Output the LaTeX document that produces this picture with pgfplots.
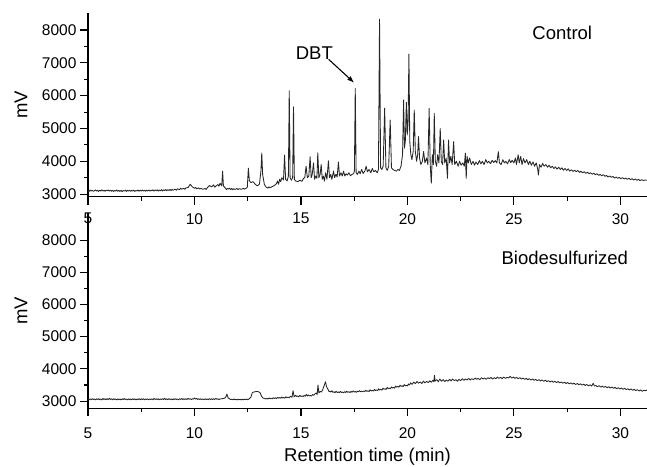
\documentclass[border=0pt]{standalone}
\usepackage{fontspec}
\setmainfont{Liberation Sans}
\usepackage{pgfplots}
\pgfplotsset{compat=1.18}
\usetikzlibrary{arrows.meta}
\newcommand{\tickfont}{\fontsize{15.5}{18}\selectfont}
\newcommand{\labfont}{\fontsize{18.5}{22}\selectfont}
\pgfplotsset{
  chrom/.style={
    scale only axis,
    width=559pt,
    xmin=5, xmax=31.25,
    axis x line*=bottom, axis y line*=left,
    axis line style={-, line width=1.2pt, black},
    xtick={5,10,15,20,25,30},
    ytick={3000,4000,5000,6000,7000,8000},
    minor x tick num=1, minor y tick num=1,
    tick align=outside,
    major tick length=8pt, minor tick length=4pt,
    every tick/.style={black, line width=1.1pt},
    tick label style={font=\tickfont},
    /pgf/number format/assume math mode=true,
    /pgf/number format/1000 sep={},
    ylabel={mV},
    ylabel style={font=\labfont, at={(axis description cs:-0.12,0.5)}, anchor=center},
    clip=false,
  },
  trace/.style={black!85, line width=0.85pt, mark=none, line join=round},
}
\begin{document}
\begin{tikzpicture}
% ---------------- top panel: control ----------------
\begin{axis}[chrom, at={(88pt,-196.7pt)}, anchor=south west,
  height=183.4pt, ymin=2920, ymax=8510, xticklabel style={yshift=-5pt}]
\addplot[trace] coordinates {
(5.0,3110)(5.05,3080)(5.1,3125)(5.15,3090)(5.2,3120)(5.25,3085)(5.3,3100)(5.35,3130)(5.4,3095)(5.45,3115)(5.5,3080)
(5.55,3120)(5.6,3095)(5.65,3130)(5.7,3090)(5.75,3115)(5.8,3085)(5.85,3120)(5.9,3100)(5.95,3125)
(6.0,3090)(6.05,3120)(6.1,3085)(6.15,3115)(6.2,3080)(6.25,3110)(6.3,3090)(6.35,3125)(6.4,3085)(6.45,3110)
(6.5,3080)(6.55,3115)(6.6,3075)(6.65,3110)(6.7,3090)(6.75,3120)(6.8,3080)(6.85,3115)(6.9,3090)(6.95,3120)
(7.0,3085)(7.05,3115)(7.1,3090)(7.15,3120)(7.2,3080)(7.25,3110)(7.3,3095)(7.35,3125)(7.4,3085)(7.45,3120)
(7.5,3095)(7.55,3125)(7.6,3090)(7.65,3115)(7.7,3085)(7.75,3120)(7.8,3095)(7.85,3125)(7.9,3090)(7.95,3120)
(8.0,3100)(8.05,3130)(8.1,3090)(8.15,3125)(8.2,3100)(8.25,3130)(8.3,3090)(8.35,3125)(8.4,3100)(8.45,3135)
(8.5,3095)(8.55,3130)(8.6,3105)(8.65,3140)(8.7,3100)(8.75,3135)(8.8,3110)(8.85,3140)(8.9,3105)(8.95,3145)
(9.0,3115)(9.1,3150)(9.15,3120)(9.2,3160)(9.3,3135)(9.35,3180)(9.4,3150)(9.5,3175)(9.55,3145)(9.6,3190)
(9.7,3200)(9.8,3300)(9.9,3220)(10.0,3180)(10.05,3200)(10.1,3160)(10.2,3190)(10.25,3150)(10.3,3175)(10.4,3145)
(10.5,3170)(10.55,3140)(10.6,3190)(10.7,3260)(10.8,3220)(10.9,3280)(10.95,3210)(11.0,3240)(11.1,3290)(11.15,3240)
(11.2,3330)(11.28,3250)(11.32,3700)(11.36,3250)(11.45,3180)(11.5,3140)(11.55,3175)(11.6,3150)(11.65,3180)
(11.7,3140)(11.75,3170)(11.8,3130)(11.85,3165)(11.9,3140)(12.0,3170)(12.05,3135)(12.1,3165)(12.2,3145)(12.3,3175)
(12.35,3150)(12.4,3170)(12.48,3200)(12.53,3790)(12.58,3400)(12.65,3350)(12.75,3380)(12.85,3300)(12.95,3250)
(13.05,3300)(13.12,3700)(13.16,4250)(13.2,3600)(13.28,3300)(13.35,3220)(13.45,3180)(13.5,3220)(13.55,3190)
(13.65,3230)(13.75,3260)(13.85,3320)(13.9,3400)(13.95,3300)(14.0,3450)(14.05,3380)(14.1,3500)(14.18,3430)
(14.23,4190)(14.28,3450)(14.35,3400)(14.41,3550)(14.45,6150)(14.49,3500)(14.55,3420)(14.61,3500)(14.65,5660)
(14.69,3450)(14.75,3400)(14.85,3380)(14.95,3420)(15.05,3390)(15.12,3480)(15.18,3500)(15.24,3850)(15.3,3500)
(15.37,3550)(15.43,4140)(15.48,3500)(15.53,3600)(15.59,3950)(15.64,3450)(15.7,3550)(15.75,3480)(15.79,4260)(15.84,3500)
(15.9,3600)(15.95,3900)(16.0,3450)(16.05,3550)(16.1,3400)(16.16,3650)(16.22,3450)(16.29,4015)(16.34,3500)(16.4,3600)
(16.45,3450)(16.53,3700)(16.58,3500)(16.64,3600)(16.7,3520)(16.76,3980)(16.81,3550)(16.88,3650)(16.94,3550)(17.0,3700)
(17.06,3550)(17.12,3620)(17.18,3580)(17.25,3650)(17.32,3560)(17.4,3600)(17.47,3620)(17.51,3700)(17.55,6220)(17.59,3650)
(17.65,3600)(17.72,3700)(17.78,3620)(17.85,3750)(17.92,3630)(18.0,3700)(18.06,3850)(18.12,3680)(18.2,3750)(18.28,3650)
(18.35,3780)(18.42,3680)(18.5,3720)(18.58,3650)(18.64,3750)(18.69,8330)(18.74,3800)(18.8,3750)(18.86,3850)(18.93,5620)
(18.99,3800)(19.05,3720)(19.12,3850)(19.19,5260)(19.25,3800)(19.32,3750)(19.4,3720)(19.48,3700)(19.55,3750)(19.62,3720)
(19.7,3850)(19.77,4200)(19.82,5870)(19.86,4400)(19.9,4600)(19.95,5800)(19.99,4800)(20.03,5200)(20.07,7270)(20.11,4600)
(20.16,4200)(20.21,4050)(20.27,4300)(20.32,5560)(20.37,4300)(20.43,4000)(20.48,4200)(20.52,4750)(20.57,4100)(20.63,3900)
(20.7,4000)(20.76,4300)(20.82,3950)(20.9,4100)(20.96,3900)(21.02,5610)(21.07,3900)(21.12,3330)(21.17,4200)(21.22,3900)
(21.26,5460)(21.31,4000)(21.37,3850)(21.42,4200)(21.48,3950)(21.54,5000)(21.59,4000)(21.65,3900)(21.7,4650)(21.75,3950)
(21.82,4100)(21.88,3480)(21.93,4650)(21.98,3950)(22.04,4150)(22.1,3900)(22.17,4600)(22.22,3900)(22.3,4000)(22.38,3850)
(22.45,4000)(22.52,3880)(22.6,3950)(22.67,3850)(22.72,4250)(22.76,3480)(22.8,4150)(22.86,3950)(22.92,4100)(23.0,3900)
(23.08,4000)(23.15,3880)(23.22,3980)(23.3,3900)(23.38,4020)(23.45,3920)(23.52,4000)(23.6,3900)(23.68,4050)(23.75,3950)
(23.82,4000)(23.9,3930)(23.98,4030)(24.05,3960)(24.12,4020)(24.2,3950)(24.27,4290)(24.32,3950)(24.4,3900)(24.48,4050)
(24.55,3950)(24.62,4000)(24.7,3920)(24.78,4050)(24.85,3960)(24.92,4030)(25.0,3950)(25.07,4100)(25.12,3900)(25.2,4200)
(25.25,3950)(25.32,4150)(25.38,3900)(25.45,4080)(25.52,3950)(25.6,4050)(25.68,3900)(25.75,4000)(25.82,3880)(25.9,3980)
(25.97,3850)(26.05,3950)(26.12,3750)(26.15,3580)(26.2,3900)(26.27,3820)(26.35,3930)(26.42,3850)(26.5,3900)(26.58,3820)
(26.65,3880)(26.72,3800)(26.8,3850)(26.88,3780)(26.95,3830)(27.02,3760)(27.1,3820)(27.18,3750)(27.25,3800)(27.32,3730)
(27.4,3780)(27.48,3720)(27.55,3770)(27.62,3700)(27.7,3740)(27.78,3690)(27.85,3730)(27.92,3680)(28.0,3720)(28.08,3660)
(28.15,3700)(28.22,3650)(28.3,3680)(28.38,3630)(28.45,3670)(28.52,3620)(28.6,3650)(28.68,3600)(28.75,3640)(28.82,3590)
(28.9,3620)(28.98,3570)(29.05,3600)(29.12,3560)(29.2,3590)(29.28,3540)(29.35,3570)(29.42,3520)(29.5,3550)(29.58,3510)
(29.65,3540)(29.72,3490)(29.8,3520)(29.88,3480)(29.95,3510)(30.02,3470)(30.1,3500)(30.18,3460)(30.25,3490)(30.32,3450)
(30.4,3480)(30.48,3440)(30.55,3470)(30.62,3430)(30.7,3460)(30.78,3420)(30.85,3450)(30.92,3410)(31.0,3440)(31.08,3410)
(31.15,3430)(31.25,3420)
};
\node[font=\labfont] at (axis cs:27.27,7909) {Control};
\node[font=\labfont] at (axis cs:15.63,7290) {DBT};
\draw[-{Latex[length=7pt,width=5pt]}, line width=1.1pt] (axis cs:16.30,7107) -- (axis cs:17.50,6393);
\end{axis}
% ---------------- bottom panel: biodesulfurized ----------------
\begin{axis}[chrom, at={(88pt,-408.3pt)}, anchor=south west,
  height=195.3pt, ymin=2775, ymax=8840, xticklabel style={yshift=-8pt},
  xlabel={Retention time (min)},
  xlabel style={font=\labfont, at={(axis description cs:0.5,-0.249)}, anchor=center}]
\addplot[trace] coordinates {
(5.0,3060)(5.05,3035)(5.1,3070)(5.15,3040)(5.2,3075)(5.25,3045)(5.3,3065)(5.35,3035)(5.4,3070)(5.45,3045)
(5.5,3075)(5.55,3040)(5.6,3065)(5.65,3035)(5.7,3080)(5.75,3050)(5.8,3070)(5.85,3040)(5.9,3075)(5.95,3045)
(6.0,3085)(6.05,3050)(6.1,3070)(6.15,3040)(6.2,3075)(6.25,3045)(6.3,3065)(6.35,3035)(6.4,3070)(6.45,3040)
(6.5,3065)(6.55,3035)(6.6,3070)(6.65,3045)(6.7,3080)(6.75,3050)(6.8,3065)(6.85,3035)(6.9,3070)(6.95,3040)
(7.0,3065)(7.05,3040)(7.1,3075)(7.15,3045)(7.2,3070)(7.25,3035)(7.3,3065)(7.35,3045)(7.4,3075)(7.45,3040)
(7.5,3070)(7.55,3045)(7.6,3075)(7.65,3040)(7.7,3065)(7.75,3045)(7.8,3070)(7.85,3040)(7.9,3065)(7.95,3045)
(8.0,3070)(8.05,3040)(8.1,3080)(8.15,3050)(8.2,3070)(8.25,3045)(8.3,3075)(8.35,3040)(8.4,3065)(8.45,3050)
(8.5,3075)(8.55,3045)(8.6,3085)(8.65,3050)(8.7,3070)(8.75,3040)(8.8,3075)(8.85,3050)(8.9,3065)(8.95,3040)
(9.0,3070)(9.05,3045)(9.1,3075)(9.15,3050)(9.2,3065)(9.25,3040)(9.3,3070)(9.35,3050)(9.4,3080)(9.45,3045)
(9.5,3070)(9.55,3050)(9.6,3075)(9.65,3045)(9.7,3085)(9.75,3055)(9.8,3075)(9.85,3045)(9.9,3070)(9.95,3060)
(10.0,3095)(10.05,3060)(10.1,3080)(10.15,3050)(10.2,3075)(10.25,3045)(10.3,3070)(10.35,3050)(10.4,3065)(10.45,3040)
(10.5,3070)(10.55,3045)(10.6,3065)(10.65,3040)(10.7,3075)(10.75,3050)(10.8,3070)(10.85,3045)(10.9,3075)(10.95,3050)
(11.0,3085)(11.05,3055)(11.1,3070)(11.15,3045)(11.2,3065)(11.3,3075)(11.4,3085)(11.48,3130)(11.52,3220)(11.58,3100)
(11.65,3070)(11.7,3045)(11.75,3060)(11.8,3040)(11.85,3065)(11.9,3040)(11.95,3055)(12.0,3035)(12.05,3060)(12.1,3040)
(12.15,3055)(12.2,3035)(12.25,3060)(12.3,3040)(12.35,3055)(12.4,3045)(12.45,3065)(12.5,3040)(12.55,3060)(12.65,3120)
(12.72,3270)(12.8,3280)(12.9,3300)(13.0,3290)(13.08,3260)(13.15,3150)(13.22,3090)(13.3,3080)(13.35,3060)(13.4,3085)
(13.45,3065)(13.5,3095)(13.55,3070)(13.6,3090)(13.65,3070)(13.7,3105)(13.75,3080)(13.8,3100)(13.85,3080)(13.9,3115)
(13.95,3090)(14.0,3110)(14.05,3085)(14.1,3125)(14.15,3095)(14.2,3110)(14.25,3090)(14.3,3135)(14.35,3105)(14.4,3120)
(14.45,3100)(14.5,3150)(14.58,3120)(14.63,3320)(14.68,3130)(14.75,3180)(14.8,3140)(14.85,3160)(14.9,3130)(14.95,3175)
(15.0,3145)(15.05,3160)(15.1,3140)(15.15,3175)(15.2,3150)(15.25,3205)(15.3,3160)(15.35,3190)(15.4,3160)(15.45,3170)
(15.5,3155)(15.55,3205)(15.6,3180)(15.65,3220)(15.72,3250)(15.76,3200)(15.8,3500)(15.84,3250)(15.9,3300)(15.96,3280)
(16.02,3350)(16.1,3500)(16.15,3600)(16.2,3450)(16.28,3350)(16.32,3290)(16.36,3310)(16.4,3280)(16.45,3320)(16.5,3270)
(16.55,3290)(16.6,3260)(16.65,3305)(16.7,3265)(16.75,3285)(16.8,3260)(16.85,3300)(16.9,3265)(16.95,3280)(17.0,3255)
(17.05,3290)(17.1,3265)(17.15,3305)(17.2,3270)(17.25,3290)(17.3,3265)(17.35,3300)(17.4,3275)(17.45,3315)(17.5,3280)
(17.55,3295)(17.6,3270)(17.65,3310)(17.7,3285)(17.75,3325)(17.8,3290)(17.85,3305)(17.9,3285)(17.95,3315)(18.0,3295)
(18.05,3335)(18.1,3300)(18.15,3320)(18.2,3295)(18.25,3350)(18.3,3315)(18.35,3335)(18.4,3310)(18.45,3360)(18.5,3330)
(18.55,3345)(18.6,3325)(18.65,3380)(18.7,3345)(18.75,3365)(18.8,3340)(18.85,3400)(18.9,3365)(18.95,3385)(19.0,3360)
(19.05,3420)(19.1,3385)(19.15,3405)(19.2,3380)(19.25,3440)(19.3,3405)(19.35,3425)(19.4,3400)(19.45,3470)(19.5,3430)
(19.55,3455)(19.6,3430)(19.65,3490)(19.7,3455)(19.75,3475)(19.8,3450)(19.85,3510)(19.9,3470)(19.95,3495)(20.0,3470)
(20.05,3530)(20.1,3500)(20.15,3570)(20.22,3520)(20.3,3590)(20.38,3540)(20.45,3610)(20.52,3555)(20.6,3590)(20.68,3545)
(20.75,3620)(20.82,3565)(20.9,3610)(20.98,3575)(21.05,3630)(21.12,3585)(21.2,3645)(21.24,3600)(21.27,3800)(21.3,3620)
(21.38,3665)(21.45,3600)(21.52,3685)(21.6,3615)(21.68,3665)(21.75,3605)(21.82,3655)(21.9,3615)(21.98,3675)(22.05,3625)
(22.12,3685)(22.2,3635)(22.28,3665)(22.35,3615)(22.42,3675)(22.5,3635)(22.58,3695)(22.65,3645)(22.72,3685)(22.8,3655)
(22.88,3705)(22.95,3655)(23.02,3695)(23.1,3665)(23.18,3715)(23.25,3675)(23.32,3705)(23.4,3665)(23.48,3725)(23.55,3685)
(23.62,3715)(23.7,3675)(23.78,3725)(23.85,3695)(23.92,3735)(24.0,3685)(24.08,3725)(24.15,3695)(24.22,3745)(24.3,3705)
(24.38,3735)(24.45,3695)(24.52,3745)(24.6,3705)(24.68,3735)(24.75,3715)(24.82,3765)(24.9,3715)(24.98,3745)(25.05,3705)
(25.12,3735)(25.2,3695)(25.28,3725)(25.35,3685)(25.42,3715)(25.5,3675)(25.58,3705)(25.65,3665)(25.72,3695)(25.8,3655)
(25.88,3685)(25.95,3645)(26.02,3675)(26.1,3635)(26.18,3665)(26.25,3625)(26.32,3655)(26.4,3615)(26.48,3645)(26.55,3605)
(26.62,3635)(26.7,3595)(26.78,3625)(26.85,3585)(26.92,3615)(27.0,3575)(27.08,3605)(27.15,3565)(27.22,3595)(27.3,3555)
(27.38,3585)(27.45,3545)(27.52,3575)(27.6,3535)(27.68,3565)(27.75,3525)(27.82,3555)(27.9,3515)(27.98,3545)(28.05,3505)
(28.12,3535)(28.2,3495)(28.28,3525)(28.35,3485)(28.42,3515)(28.5,3475)(28.58,3505)(28.65,3465)(28.72,3550)(28.78,3465)
(28.85,3485)(28.92,3445)(29.0,3475)(29.08,3435)(29.15,3465)(29.22,3425)(29.3,3455)(29.38,3415)(29.45,3445)(29.52,3405)
(29.6,3435)(29.68,3395)(29.75,3425)(29.82,3385)(29.9,3415)(29.98,3375)(30.05,3405)(30.12,3365)(30.2,3395)(30.28,3355)
(30.35,3385)(30.42,3345)(30.5,3375)(30.58,3335)(30.65,3365)(30.72,3325)(30.8,3355)(30.88,3315)(30.95,3345)(31.02,3305)
(31.1,3335)(31.18,3320)(31.25,3340)
};
\node[font=\labfont] at (axis cs:27.39,7432) {Biodesulfurized};
\end{axis}
\pgfresetboundingbox
\path[use as bounding box] (0pt,0pt) rectangle (647pt,-466pt);
\end{tikzpicture}
\end{document}
